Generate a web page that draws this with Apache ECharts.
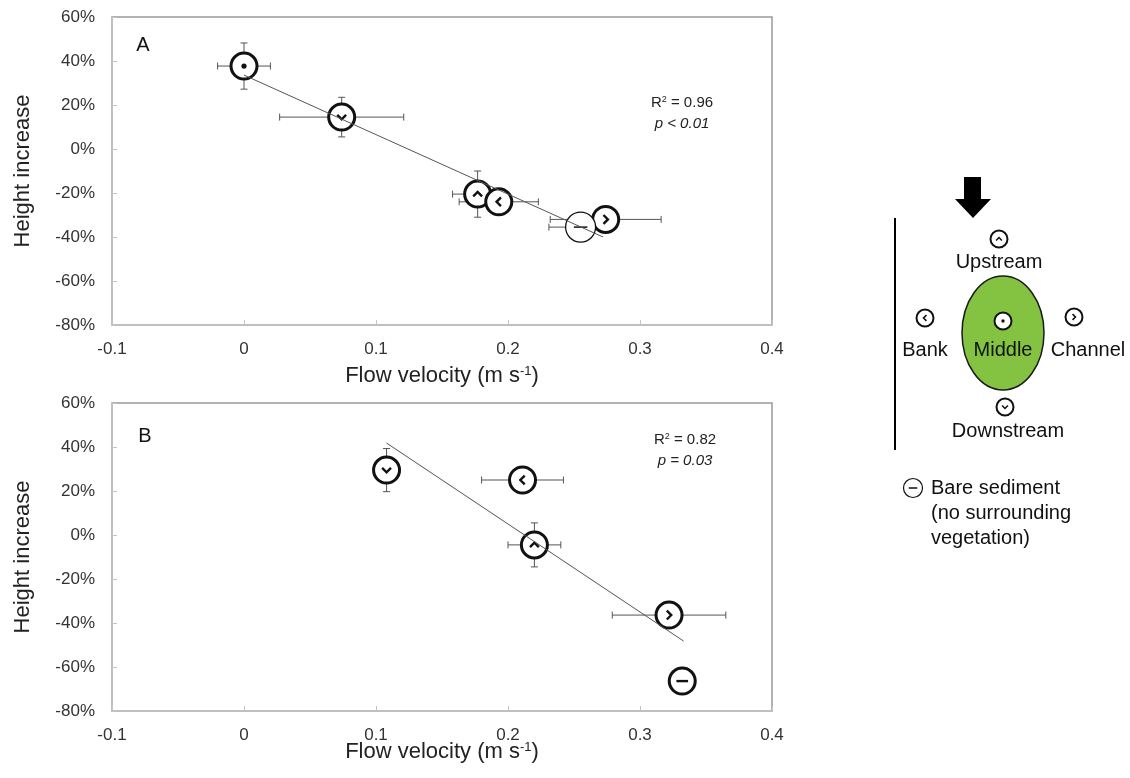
<!DOCTYPE html>
<html>
<head>
<meta charset="utf-8">
<script src="https://cdn.jsdelivr.net/npm/echarts@6/dist/echarts.min.js"></script>
<style>
  html, body { margin: 0; padding: 0; background: #fff; }
  #main { width: 1130px; height: 778px; }
</style>
</head>
<body>
<div id="main"></div>
<script>
// panel A ---------------------------------------------
var kindsA = ['middle', 'downstream', 'upstream', 'bank', 'channel', 'bare'];
var velA = [0, 0.074, 0.177, 0.193, 0.274, 0.255];
var heightA = [37.7, 14.5, -20.5, -24, -32, -35.5];
var velErrA = [0.02, 0.047, 0.019, 0.03, 0.042, 0.024];
var heightErrA = [10.5, 9, 10.5, 0, 0, 0];
var trendXA = [0, 0.272];
var trendYA = [33.6, -40];

// panel B ---------------------------------------------
var kindsB = ['downstream', 'bank', 'upstream', 'channel', 'bare'];
var velB = [0.108, 0.211, 0.22, 0.322, 0.332];
var heightB = [29.5, 25, -4.5, -36.4, -66.4];
var velErrB = [0, 0.031, 0.02, 0.043, 0];
var heightErrB = [9.8, 0, 10, 0, 0];
var trendXB = [0.108, 0.333];
var trendYB = [41.8, -48.2];

var statsA = ['0.96', '< 0.01'];
var statsB = ['0.82', '= 0.03'];

// axes
var xTicks = { min: -0.1, max: 0.4, interval: 0.1 };
var yTicks = { min: -80, max: 60, interval: 20 };

var FONT = 'Liberation Sans, Arial, sans-serif';
var myChart = echarts.init(document.getElementById('main'));

// the little circle symbols (plot markers + diagram)
function symbolShapes(kind, cx, cy, r, lw) {
    var s = r * 0.34;
    var ink = '#111';
    var out = [{
        type: 'circle',
        shape: { cx: cx, cy: cy, r: r },
        style: { fill: '#fff', stroke: ink, lineWidth: lw }
    }];
    var pts = null;
    if (kind === 'middle') {
        out.push({ type: 'circle', shape: { cx: cx, cy: cy, r: r * 0.2 }, style: { fill: ink } });
    } else if (kind === 'downstream') {
        pts = [[cx - s, cy - s / 2], [cx, cy + s / 2], [cx + s, cy - s / 2]];
    } else if (kind === 'upstream') {
        pts = [[cx - s, cy + s / 2], [cx, cy - s / 2], [cx + s, cy + s / 2]];
    } else if (kind === 'bank') {
        pts = [[cx + s / 2, cy - s], [cx - s / 2, cy], [cx + s / 2, cy + s]];
    } else if (kind === 'channel') {
        pts = [[cx - s / 2, cy - s], [cx + s / 2, cy], [cx - s / 2, cy + s]];
    } else if (kind === 'bare') {
        pts = [[cx - r * 0.45, cy], [cx + r * 0.45, cy]];
    }
    if (pts) {
        out.push({
            type: 'polyline',
            shape: { points: pts },
            style: { fill: null, stroke: ink, lineWidth: Math.max(lw * 0.8, 1.5) }
        });
    }
    return out;
}

function markerSeries(idx, kinds, vel, height, thinBare) {
    return {
        type: 'custom',
        xAxisIndex: idx,
        yAxisIndex: idx,
        z: 3,
        data: vel.map(function (v, i) { return [v, height[i], i]; }),
        renderItem: function (params, api) {
            var p = api.coord([api.value(0), api.value(1)]);
            var kind = kinds[api.value(2)];
            var thin = thinBare && kind === 'bare';
            return {
                type: 'group',
                children: symbolShapes(kind, p[0], p[1], thin ? 15 : 13, thin ? 1.3 : 3)
            };
        }
    };
}

function errorSeries(idx, vel, height, ex, ey) {
    return {
        type: 'custom',
        xAxisIndex: idx,
        yAxisIndex: idx,
        z: 2,
        data: vel.map(function (v, i) { return [v, height[i], ex[i], ey[i]]; }),
        renderItem: function (params, api) {
            var x = api.value(0), y = api.value(1), dx = api.value(2), dy = api.value(3);
            var kids = [];
            var st = { stroke: '#555', lineWidth: 1 };
            var cap = 3.5;
            if (dx > 0) {
                var l = api.coord([x - dx, y]), r = api.coord([x + dx, y]);
                kids.push({ type: 'line', shape: { x1: l[0], y1: l[1], x2: r[0], y2: r[1] }, style: st });
                kids.push({ type: 'line', shape: { x1: l[0], y1: l[1] - cap, x2: l[0], y2: l[1] + cap }, style: st });
                kids.push({ type: 'line', shape: { x1: r[0], y1: r[1] - cap, x2: r[0], y2: r[1] + cap }, style: st });
            }
            if (dy > 0) {
                var t = api.coord([x, y + dy]), b = api.coord([x, y - dy]);
                kids.push({ type: 'line', shape: { x1: t[0], y1: t[1], x2: b[0], y2: b[1] }, style: st });
                kids.push({ type: 'line', shape: { x1: t[0] - cap, y1: t[1], x2: t[0] + cap, y2: t[1] }, style: st });
                kids.push({ type: 'line', shape: { x1: b[0] - cap, y1: b[1], x2: b[0] + cap, y2: b[1] }, style: st });
            }
            return { type: 'group', children: kids };
        }
    };
}

function trendSeries(idx, xs, ys) {
    return {
        type: 'line',
        xAxisIndex: idx,
        yAxisIndex: idx,
        z: 4,
        symbol: 'none',
        silent: true,
        data: xs.map(function (v, i) { return [v, ys[i]]; }),
        lineStyle: { color: '#555', width: 1 }
    };
}

var supRich = {
    n: { fontSize: 22, color: '#222', fontFamily: FONT },
    sup: { fontSize: 13, color: '#222', fontFamily: FONT, verticalAlign: 'top', padding: [0, 0, 8, 0] }
};

function xAxisOf(idx, gap) {
    return {
        gridIndex: idx,
        type: 'value',
        min: xTicks.min, max: xTicks.max, interval: xTicks.interval,
        axisLine: { onZero: false, lineStyle: { color: '#c4c4c4', width: 1.5 } },
        axisTick: { inside: true, length: 5, lineStyle: { color: '#c4c4c4' } },
        splitLine: { show: false },
        axisLabel: { color: '#333', fontSize: 17, fontFamily: FONT, margin: 16 },
        name: '{n|Flow velocity (m s}{sup|-1}{n|)}',
        nameLocation: 'middle',
        nameGap: gap,
        nameMoveOverlap: false,
        nameTextStyle: { rich: supRich }
    };
}

function yAxisOf(idx) {
    return {
        gridIndex: idx,
        type: 'value',
        min: yTicks.min, max: yTicks.max, interval: yTicks.interval,
        axisLine: { show: true, onZero: false, lineStyle: { color: '#c4c4c4', width: 1.5 } },
        axisTick: { show: true, inside: true, length: 5, lineStyle: { color: '#c4c4c4' } },
        splitLine: { show: false },
        axisLabel: { color: '#333', fontSize: 17, fontFamily: FONT, margin: 17, formatter: '{value}%' },
        name: 'Height increase',
        nameLocation: 'middle',
        nameGap: 78,
        nameMoveOverlap: false,
        nameTextStyle: { fontSize: 22, color: '#222', fontFamily: FONT }
    };
}

function statText(x, y, r2, p) {
    return [{
        type: 'text', x: x, y: y,
        style: {
            text: '{a|R}{s|2}{a| = ' + r2 + '}',
            align: 'center', verticalAlign: 'middle',
            rich: {
                a: { fontSize: 15, fill: '#222', fontFamily: FONT },
                s: { fontSize: 9, fill: '#222', fontFamily: FONT, verticalAlign: 'top', padding: [0, 0, 6, 0] }
            }
        }
    }, {
        type: 'text', x: x, y: y + 21,
        style: {
            text: 'p ' + p, align: 'center', verticalAlign: 'middle',
            font: 'italic 15px ' + FONT, fill: '#222'
        }
    }];
}

function diagramText(txt, x, y, align) {
    return {
        type: 'text', x: x, y: y,
        style: {
            text: txt, align: align || 'center', verticalAlign: 'middle',
            font: '20px ' + FONT, fill: '#111'
        }
    };
}

var graphics = [
    { type: 'text', x: 143, y: 45, style: { text: 'A', font: '20px ' + FONT, fill: '#111', align: 'center', verticalAlign: 'middle' } },
    { type: 'text', x: 145, y: 436, style: { text: 'B', font: '20px ' + FONT, fill: '#111', align: 'center', verticalAlign: 'middle' } }
].concat(statText(682, 103, statsA[0], statsA[1]))
 .concat(statText(685, 440, statsB[0], statsB[1]));

// diagram at the right
graphics.push({
    type: 'polygon',
    shape: { points: [[964, 177], [981, 177], [981, 199], [991, 199], [973, 218], [955, 199], [964, 199]] },
    style: { fill: '#000' }
});
graphics.push({ type: 'line', shape: { x1: 895, y1: 218, x2: 895, y2: 450 }, style: { stroke: '#000', lineWidth: 2 } });
graphics.push({
    type: 'ellipse',
    shape: { cx: 1003, cy: 333, rx: 41, ry: 57 },
    style: { fill: '#84c341', stroke: '#1a1a1a', lineWidth: 1.5 }
});
graphics.push({ type: 'group', children: symbolShapes('upstream', 999, 239, 8.5, 2) });
graphics.push({ type: 'group', children: symbolShapes('bank', 925, 318, 8.5, 2) });
graphics.push({ type: 'group', children: symbolShapes('middle', 1003, 321, 8.5, 2) });
graphics.push({ type: 'group', children: symbolShapes('channel', 1074, 317, 8.5, 2) });
graphics.push({ type: 'group', children: symbolShapes('downstream', 1005, 407, 8.5, 2) });
graphics.push(diagramText('Upstream', 999, 262));
graphics.push(diagramText('Bank', 925, 350));
graphics.push(diagramText('Middle', 1003, 350));
graphics.push(diagramText('Channel', 1088, 350));
graphics.push(diagramText('Downstream', 1008, 431));
graphics.push({ type: 'group', children: symbolShapes('bare', 913, 488, 9.5, 1.2) });
graphics.push(diagramText('Bare sediment', 931, 488, 'left'));
graphics.push(diagramText('(no surrounding', 931, 513, 'left'));
graphics.push(diagramText('vegetation)', 931, 538, 'left'));

var option = {
    animation: false,
    backgroundColor: '#fff',
    grid: [
        { left: 112, top: 17, width: 660, height: 308, show: true, borderColor: '#999', borderWidth: 1.5 },
        { left: 112, top: 403, width: 660, height: 308, show: true, borderColor: '#999', borderWidth: 1.5 }
    ],
    xAxis: [xAxisOf(0, 40), xAxisOf(1, 30)],
    yAxis: [yAxisOf(0), yAxisOf(1)],
    series: [
        errorSeries(0, velA, heightA, velErrA, heightErrA),
        markerSeries(0, kindsA, velA, heightA, true),
        trendSeries(0, trendXA, trendYA),
        errorSeries(1, velB, heightB, velErrB, heightErrB),
        markerSeries(1, kindsB, velB, heightB, false),
        trendSeries(1, trendXB, trendYB)
    ],
    graphic: graphics
};

myChart.setOption(option);
</script>
</body>
</html>
